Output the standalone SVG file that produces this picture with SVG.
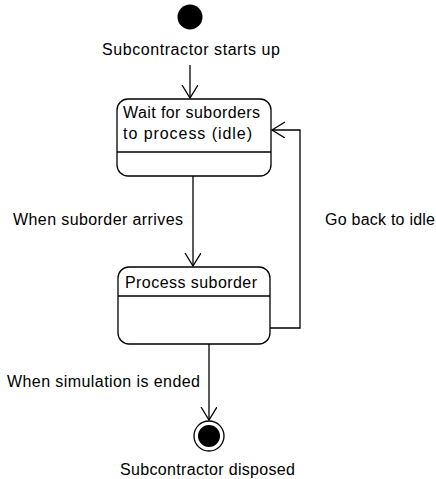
<svg xmlns="http://www.w3.org/2000/svg" width="436" height="479" viewBox="0 0 436 479">
<defs>
<style>
text{font-family:"Liberation Sans",Arial,sans-serif;font-size:16px;fill:#000}
.box{fill:#fff;stroke:#000;stroke-width:1.3}
.ln{fill:none;stroke:#000;stroke-width:1.3}
</style>
<marker id="arr" markerWidth="16" markerHeight="18" refX="13" refY="8" orient="auto" markerUnits="userSpaceOnUse">
<path d="M0,0 L13,8 L0,16" fill="none" stroke="#000" stroke-width="1.3"/>
</marker>
</defs>
<rect width="436" height="479" fill="#fff"/>
<g id="connectors">
<line class="ln" x1="190" y1="65" x2="190" y2="98" marker-end="url(#arr)"/>
<line class="ln" x1="193" y1="176" x2="193" y2="266" marker-end="url(#arr)"/>
<polyline class="ln" points="270,328 300,328 300,130 272,130" marker-end="url(#arr)"/>
<line class="ln" x1="209" y1="344" x2="209" y2="420" marker-end="url(#arr)"/>
<text x="13" y="225" textLength="170" lengthAdjust="spacing">When suborder arrives</text>
<text x="325" y="225" textLength="110" lengthAdjust="spacing">Go back to idle</text>
<text x="7" y="387" textLength="193" lengthAdjust="spacing">When simulation is ended</text>
</g>
<g id="start">
<circle cx="190" cy="17" r="12.5" fill="#000"/>
<text x="102" y="55" textLength="178" lengthAdjust="spacing">Subcontractor starts up</text>
</g>
<g id="wait">
<rect class="box" x="117" y="99" width="154" height="77" rx="11"/>
<line class="ln" x1="117" y1="152" x2="271" y2="152"/>
<text x="123" y="118" textLength="137" lengthAdjust="spacing">Wait for suborders</text>
<text x="123" y="139" textLength="129" lengthAdjust="spacing">to process (idle)</text>
</g>
<g id="process">
<rect class="box" x="118" y="267" width="152" height="77" rx="11"/>
<line class="ln" x1="118" y1="296" x2="270" y2="296"/>
<text x="125" y="288" textLength="132" lengthAdjust="spacing">Process suborder</text>
</g>
<g id="end">
<circle cx="209" cy="436" r="15" fill="#fff" stroke="#000" stroke-width="1.3"/>
<circle cx="209" cy="436" r="11" fill="#000"/>
<text x="120" y="475" textLength="175" lengthAdjust="spacing">Subcontractor disposed</text>
</g>
</svg>
